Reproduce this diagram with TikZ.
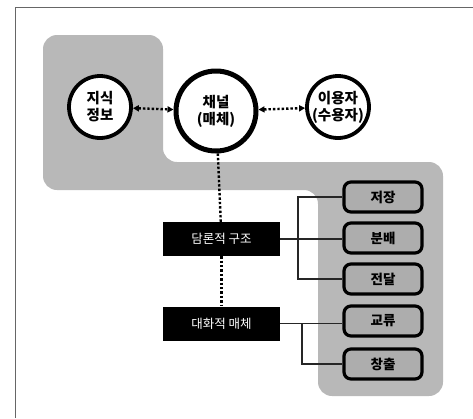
\documentclass[tikz,border=0pt]{standalone}
\usepackage{fontspec}
\setmainfont{Noto Sans CJK KR}
\usetikzlibrary{arrows.meta}
\tikzset{
	circ/.style={circle,draw,line width=3.8pt,fill=white,minimum size=62pt,inner sep=0pt,font=\bfseries\fontsize{14.5}{17}\selectfont,align=center},
	blackbox/.style={rectangle,fill=black,text=white,minimum width=117pt,minimum height=34pt,inner sep=0pt,font=\fontsize{12.5}{14}\selectfont},
	itembox/.style={rectangle,rounded corners=7pt,draw,line width=3.2pt,fill=black!32,minimum width=78pt,minimum height=30pt,inner sep=0pt,font=\bfseries\fontsize{13.5}{15}\selectfont},
	dotline/.style={line width=2.4pt,dotted},
	link/.style={line width=1.3pt,black!85}
}
\begin{document}
\begin{tikzpicture}[x=1pt,y=-1pt]
		\useasboundingbox (0,0) rectangle (473,418);
		\draw[black!60,line width=0.8pt] (15,418) -- (15,7) -- (473,7);
		\fill[black!28,rounded corners=14pt] (43,35) -- (163,35) -- (163,162) -- (443,162) -- (443,396) -- (318,396) -- (318,190) -- (43,190) -- cycle;
		\node[circ] (info) at (100,107) {지식\\정보};
		\node[circ,minimum size=80pt,line width=5pt] (chan) at (216,111) {채널\\(매체)};
		\node[circ] (user) at (338,107) {이용자\\(수용자)};
		\draw[dotline,{Triangle[length=6pt,width=6pt]}-{Triangle[length=6pt,width=6pt]}] (info) -- (chan);
		\draw[dotline,{Triangle[length=6pt,width=6pt]}-{Triangle[length=6pt,width=6pt]}] (chan) -- (user);
		\node[blackbox] (disc) at (221.5,239) {담론적 구조};
		\node[blackbox] (dial) at (221.5,323.5) {대화적 매체};
		\draw[dotline] (chan) -- (disc);
		\draw[dotline] (disc) -- (dial);
		\node[itembox] (store) at (383,197) {저장};
		\node[itembox] (distr) at (383,238) {분배};
		\node[itembox] (trans) at (383,279) {전달};
		\node[itembox] (exch) at (383,321) {교류};
		\node[itembox] (creat) at (383,364) {창출};
		\draw[link] (disc.east) -- (disc.east -| distr.west);
		\draw[link] (store.west) -- (298,197) -- (298,279) -- (trans.west);
		\draw[link] (dial.east) -- (dial.east -| exch.west);
		\draw[link] (302,323.5) -- (302,364) -- (creat.west);
		\end{tikzpicture}
\end{document}
